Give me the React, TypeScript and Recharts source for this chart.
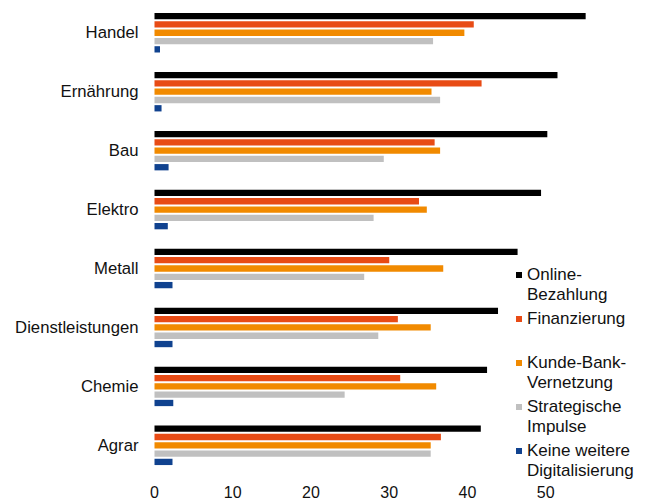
import React from 'react';
import { BarChart, Bar, XAxis, YAxis, Legend } from 'recharts';

const categories = ['Handel', 'Ernährung', 'Bau', 'Elektro', 'Metall', 'Dienstleistungen', 'Chemie', 'Agrar'];
const onlineBezahlung = [55.1, 51.5, 50.2, 49.4, 46.4, 43.9, 42.5, 41.7];
const finanzierung = [40.8, 41.8, 35.8, 33.8, 30.0, 31.1, 31.4, 36.6];
const kundeBankVernetzung = [39.6, 35.4, 36.5, 34.8, 36.9, 35.3, 36.0, 35.3];
const strategischeImpulse = [35.6, 36.5, 29.3, 28.0, 26.8, 28.6, 24.3, 35.3];
const keineWeitere = [0.7, 0.9, 1.8, 1.7, 2.3, 2.3, 2.4, 2.3];
const xTicks = [0, 10, 20, 30, 40, 50];

const series = [
  { key: 'online', name: 'Online-Bezahlung', lines: ['Online-', 'Bezahlung'], color: '#000000', values: onlineBezahlung },
  { key: 'finanz', name: 'Finanzierung', lines: ['Finanzierung'], color: '#E84B15', values: finanzierung },
  { key: 'kunde', name: 'Kunde-Bank-Vernetzung', lines: ['Kunde-Bank-', 'Vernetzung'], color: '#F18A00', values: kundeBankVernetzung },
  { key: 'strat', name: 'Strategische Impulse', lines: ['Strategische', 'Impulse'], color: '#C0C0C0', values: strategischeImpulse },
  { key: 'keine', name: 'Keine weitere Digitalisierung', lines: ['Keine weitere', 'Digitalisierung'], color: '#10428F', values: keineWeitere },
];

const data = categories.map((name, i) => {
  const row: Record<string, number | string> = { name };
  series.forEach((s) => {
    row[s.key] = s.values[i];
  });
  return row;
});

const FONT = '"Liberation Sans", Arial, sans-serif';

const renderLegend = () => (
  <div style={{ fontFamily: FONT, fontSize: 17, color: '#111', lineHeight: '20px' }}>
    {series.map((s) => (
      <div key={s.key} style={{ display: 'flex', height: 44, alignItems: 'flex-start' }}>
        <div style={{ width: 6, height: 6, background: s.color, marginTop: 7, marginRight: 5, flexShrink: 0 }} />
        <div>
          {s.lines.map((l) => (
            <div key={l} style={{ whiteSpace: 'nowrap' }}>{l}</div>
          ))}
        </div>
      </div>
    ))}
  </div>
);

export default function App() {
  return (
    <div style={{ position: 'absolute', left: 0, top: 0, width: 658, height: 501, background: '#fff' }}>
      <BarChart
        width={658}
        height={501}
        data={data}
        layout="vertical"
        margin={{ top: 3, right: 34, bottom: 0, left: 0 }}
        barGap={2}
      >
        <XAxis
          type="number"
          domain={[0, 60]}
          ticks={xTicks}
          axisLine={false}
          tickLine={false}
          tickSize={6}
          tickMargin={6.5}
          height={26.5}
          tick={{ fontSize: 16, fill: '#111', fontFamily: FONT }}
          interval={0}
        />
        <YAxis
          type="category"
          dataKey="name"
          width={154.5}
          axisLine={false}
          tickLine={false}
          tickSize={6}
          tickMargin={10}
          interval={0}
          tick={{ fontSize: 16.7, fill: '#111', fontFamily: FONT }}
        />
        <Legend
          layout="vertical"
          align="center"
          verticalAlign="middle"
          content={renderLegend}
          wrapperStyle={{ position: 'absolute', left: 516, top: 265, width: 142 }}
        />
        {series.map((s) => (
          <Bar key={s.key} dataKey={s.key} name={s.name} fill={s.color} barSize={6.3} isAnimationActive={false} />
        ))}
      </BarChart>
    </div>
  );
}
